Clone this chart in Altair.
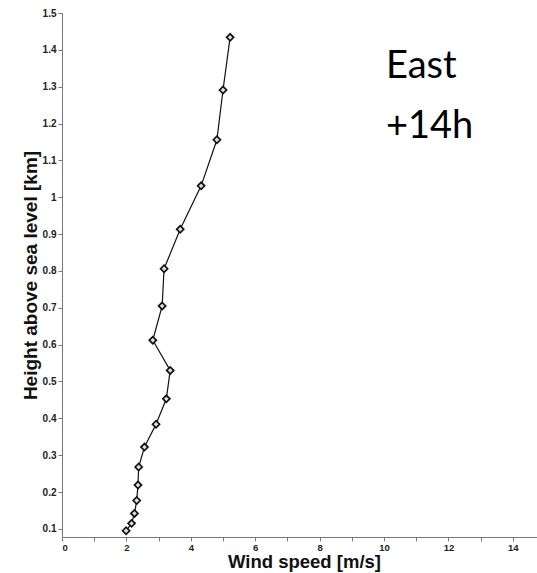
import altair as alt
import pandas as pd

wind_speed = [1.99, 2.16, 2.25, 2.32, 2.36, 2.38, 2.56, 2.92, 3.24, 3.36,
              2.82, 3.11, 3.17, 3.67, 4.32, 4.81, 5.00, 5.22]
height_km = [0.095, 0.115, 0.142, 0.177, 0.219, 0.268, 0.322, 0.384, 0.453, 0.530,
             0.612, 0.705, 0.806, 0.913, 1.031, 1.156, 1.291, 1.434]
x_ticks = list(range(0, 15))
y_ticks = [round(0.1 * i, 1) for i in range(1, 16)]
annotation_lines = ["East", "+14h"]

df = pd.DataFrame({"speed": wind_speed, "height": height_km, "order": list(range(len(wind_speed)))})

FONT = "Liberation Sans"

x_enc = alt.X("speed:Q",
              scale=alt.Scale(domain=[0, 14.75], nice=False, zero=False),
              axis=alt.Axis(title="Wind speed [m/s]", values=x_ticks, tickCount=30,
                            format="d",
                            labelExpr="datum.value % 2 == 0 ? datum.label : ''",
                            labelOverlap=False,
                            grid=False, domainColor="#777", tickColor="#777",
                            tickSize=4, labelFont=FONT, labelFontWeight="bold",
                            labelFontSize=9.5, labelColor="#222", labelPadding=1,
                            titleFont=FONT, titleFontSize=18.5, titleFontWeight="bold",
                            titleColor="#111", titlePadding=1, titleX=242))
y_enc = alt.Y("height:Q",
              scale=alt.Scale(domain=[0.078, 1.5], nice=False, zero=False),
              axis=alt.Axis(title="Height above sea level [km]", values=y_ticks, tickCount=30,
                            format="~g", labelOverlap=False,
                            grid=False, domainColor="#777", tickColor="#777",
                            tickSize=4, labelFont=FONT, labelFontWeight="bold",
                            labelFontSize=10, labelColor="#222", labelPadding=2,
                            titleFont=FONT, titleFontSize=19, titleFontWeight="bold",
                            titleColor="#111", titlePadding=2))

base = alt.Chart(df)
line = base.mark_line(color="#111", strokeWidth=1.2).encode(
    x=x_enc, y=y_enc, order="order:Q")
points = base.mark_point(shape="diamond", filled=True, fill="#ddd",
                         stroke="#111", strokeWidth=1.7, size=50,
                         opacity=1).encode(x="speed:Q", y="height:Q")

one = pd.DataFrame({"k": [0]})
ann1 = alt.Chart(one).mark_text(text=annotation_lines[0], font="Lato", fontSize=38,
                                align="left", baseline="alphabetic", color="#000").encode(
    x=alt.value(386 - 62), y=alt.value(78 - 13))
ann2 = alt.Chart(one).mark_text(text=annotation_lines[1], font="Lato", fontSize=38,
                                align="left", baseline="alphabetic", color="#000").encode(
    x=alt.value(386 - 62), y=alt.value(138 - 13))

chart = alt.layer(line, points, ann1, ann2).properties(
    width=475, height=524,
    autosize=alt.AutoSizeParams(type="none"),
    padding={"left": 62, "top": 13, "right": 0, "bottom": 36},
).configure_view(stroke=None)

chart.save("out.html", embed_options={"renderer": "svg", "actions": False})
